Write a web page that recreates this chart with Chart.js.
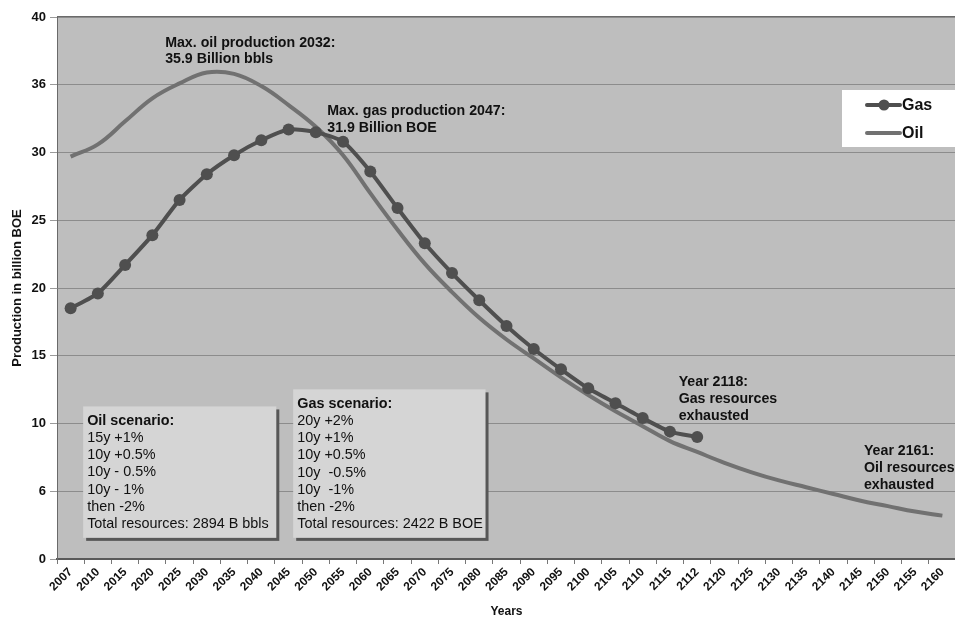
<!DOCTYPE html>
<html>
<head>
<meta charset="utf-8">
<script src="https://cdn.jsdelivr.net/npm/chart.js@4.4.1/dist/chart.umd.min.js"></script>
<style>
    body { margin: 0; background: #fff; }
    #wrap { width: 955px; height: 619px; overflow: hidden; }
</style>
</head>
<body>
<div id="wrap"><canvas id="peakChart" width="962" height="619"></canvas></div>
<script>
// Categories as printed on the x axis (the "2112" is in the original)
const years = ['2007', '2010', '2015', '2020', '2025', '2030', '2035', '2040', '2045', '2050',
    '2055', '2060', '2065', '2070', '2075', '2080', '2085', '2090', '2095', '2100',
    '2105', '2110', '2115', '2112', '2120', '2125', '2130', '2135', '2140', '2145',
    '2150', '2155', '2160'];

// Billion BOE
const gasValues = [18.5, 19.6, 21.7, 23.9, 26.5, 28.4, 29.8, 30.9, 31.7, 31.5,
    30.8, 28.6, 25.9, 23.3, 21.1, 19.1, 17.2, 15.5, 14.0, 12.6,
    11.5, 10.4, 9.4, 9.0];

const oilValues = [29.7, 30.6, 32.3, 34.0, 35.1, 35.9, 35.8, 34.9, 33.5, 31.9,
    29.8, 27.0, 24.3, 21.8, 19.7, 17.8, 16.2, 14.8, 13.4, 12.1,
    10.9, 9.8, 8.7, 7.9, 7.1, 6.4, 5.8, 5.3, 4.8, 4.3,
    3.9, 3.5, 3.2];

const yTickLabels = ['0', '6', '10', '15', '20', '25', '30', '36', '40'];

const seriesNames = ['Gas', 'Oil'];

const FONT = "'Liberation Sans', Arial, sans-serif";
const GAS_COLOR = '#4f4f4f';
const OIL_COLOR = '#717171';

// text notes, anchored on category index / value
const notes = [
    { lines: ['Max. oil production 2032:', '35.9 Billion bbls'], i: 3.47, v: 38.1 },
    { lines: ['Max. gas production 2047:', '31.9 Billion BOE'], i: 9.42, v: 33.05 },
    { lines: ['Year 2118:', 'Gas resources', 'exhausted'], i: 22.32, v: 13.05 },
    { lines: ['Year 2161:', 'Oil resources', 'exhausted'], i: 29.12, v: 7.95 }
];

const scenarioBoxes = [
    {
        lines: ['Oil scenario:', '15y +1%', '10y +0.5%', '10y - 0.5%', '10y - 1%', 'then -2%', 'Total resources: 2894 B bbls'],
        i0: 0.46, i1: 7.55, vTop: 11.26, vBottom: 1.56, textTop: 10.2
    },
    {
        lines: ['Gas scenario:', '20y +2%', '10y +1%', '10y +0.5%', '10y  -0.5%', '10y  -1%', 'then -2%', 'Total resources: 2422 B BOE'],
        i0: 8.17, i1: 15.23, vTop: 12.52, vBottom: 1.56, textTop: 11.45
    }
];

const plotBackground = {
    id: 'plotBackground',
    beforeDraw(chart) {
        const { ctx, chartArea: a } = chart;
        ctx.save();
        ctx.fillStyle = '#bebebe';
        ctx.fillRect(a.left, a.top, a.right - a.left, a.bottom - a.top);
        ctx.strokeStyle = '#6a6a6a';
        ctx.lineWidth = 2;
        ctx.beginPath();
        ctx.moveTo(a.left, a.top);
        ctx.lineTo(a.right, a.top);
        ctx.stroke();
        ctx.restore();
    }
};

const annotations = {
    id: 'annotations',
    beforeDatasetsDraw(chart) {
        const { ctx, scales } = chart;
        const x = scales.x, y = scales.y;
        ctx.save();
        scenarioBoxes.forEach(function (b) {
            const left = x.getPixelForValue(b.i0);
            const right = x.getPixelForValue(b.i1);
            const top = y.getPixelForValue(b.vTop);
            const bottom = y.getPixelForValue(b.vBottom);
            ctx.fillStyle = '#575757';
            ctx.fillRect(left + 3, top + 3, right - left, bottom - top);
            ctx.fillStyle = '#d5d5d5';
            ctx.fillRect(left, top, right - left, bottom - top);
            ctx.textBaseline = 'middle';
            ctx.textAlign = 'left';
            ctx.fillStyle = '#111';
            let ty = y.getPixelForValue(b.textTop);
            b.lines.forEach(function (line, k) {
                ctx.font = (k === 0 ? 'bold ' : '') + '14.4px ' + FONT;
                ctx.fillText(line, left + 4, ty + k * 17.2);
            });
        });
        ctx.restore();
    },
    afterDatasetsDraw(chart) {
        const { ctx, scales, chartArea: a } = chart;
        ctx.save();
        ctx.fillStyle = '#111';
        ctx.font = 'bold 14.2px ' + FONT;
        ctx.textBaseline = 'middle';
        ctx.textAlign = 'left';
        notes.forEach(function (n) {
            const px = scales.x.getPixelForValue(n.i);
            const py = scales.y.getPixelForValue(n.v);
            n.lines.forEach(function (line, k) {
                ctx.fillText(line, px, py + k * 16.8);
            });
        });

        // legend box
        const left = a.right - 114;
        const top = a.top + 73;
        ctx.fillStyle = '#fff';
        ctx.fillRect(left, top, 114, 57);
        const rows = [
            { name: seriesNames[0], color: GAS_COLOR, marker: true, cy: top + 15 },
            { name: seriesNames[1], color: OIL_COLOR, marker: false, cy: top + 43 }
        ];
        rows.forEach(function (r) {
            ctx.strokeStyle = r.color;
            ctx.lineWidth = 4;
            ctx.lineCap = 'round';
            ctx.beginPath();
            ctx.moveTo(left + 25, r.cy);
            ctx.lineTo(left + 58, r.cy);
            ctx.stroke();
            if (r.marker) {
                ctx.fillStyle = r.color;
                ctx.beginPath();
                ctx.arc(left + 42, r.cy, 5.5, 0, Math.PI * 2);
                ctx.fill();
            }
            ctx.fillStyle = '#111';
            ctx.font = 'bold 16px ' + FONT;
            ctx.fillText(r.name, left + 60, r.cy + 1);
        });
        ctx.restore();
    }
};

function initializePeakChart() {
    const ctx = document.getElementById('peakChart').getContext('2d');

    return new Chart(ctx, {
        type: 'line',
        data: {
            labels: years,
            datasets: [
                {
                    label: seriesNames[0],
                    data: gasValues,
                    borderColor: GAS_COLOR,
                    backgroundColor: GAS_COLOR,
                    borderWidth: 4,
                    pointRadius: 6,
                    pointBackgroundColor: GAS_COLOR,
                    pointBorderWidth: 0,
                    tension: 0.2,
                    order: 1
                },
                {
                    label: seriesNames[1],
                    data: oilValues,
                    borderColor: OIL_COLOR,
                    borderWidth: 4,
                    pointRadius: 0,
                    tension: 0.4,
                    order: 2
                }
            ]
        },
        options: {
            responsive: false,
            animation: false,
            layout: {
                padding: { top: 17, right: 0, bottom: 0, left: 0 }
            },
            plugins: {
                legend: { display: false },
                tooltip: { enabled: false }
            },
            scales: {
                x: {
                    type: 'category',
                    offset: true,
                    afterFit: function (scale) { scale.height = 60; },
                    grid: {
                        offset: true,
                        drawOnChartArea: false,
                        tickLength: 5,
                        tickColor: '#777'
                    },
                    border: { color: '#5a5a5a', width: 2 },
                    title: {
                        display: true,
                        text: 'Years',
                        color: '#111',
                        padding: { top: 0, bottom: 0 },
                        font: { family: FONT, size: 12, weight: 'bold' }
                    },
                    ticks: {
                        autoSkip: false,
                        minRotation: 45,
                        maxRotation: 45,
                        padding: 1,
                        color: '#111',
                        font: { family: FONT, size: 12, weight: 'bold' }
                    }
                },
                y: {
                    min: 0,
                    max: 40,
                    afterFit: function (scale) { scale.width = 57; },
                    grid: {
                        color: '#8c8c8c',
                        tickLength: 7,
                        tickColor: '#9a9a9a'
                    },
                    border: { color: '#6a6a6a', width: 1 },
                    title: {
                        display: true,
                        text: 'Production in billion BOE',
                        color: '#111',
                        padding: { top: 10, bottom: 0 },
                        font: { family: FONT, size: 13, weight: 'bold' }
                    },
                    ticks: {
                        stepSize: 5,
                        padding: 4,
                        color: '#111',
                        font: { family: FONT, size: 13, weight: 'bold' },
                        callback: function (value) {
                            return yTickLabels[value / 5];
                        }
                    }
                }
            }
        },
        plugins: [plotBackground, annotations]
    });
}

initializePeakChart();
</script>
</body>
</html>
